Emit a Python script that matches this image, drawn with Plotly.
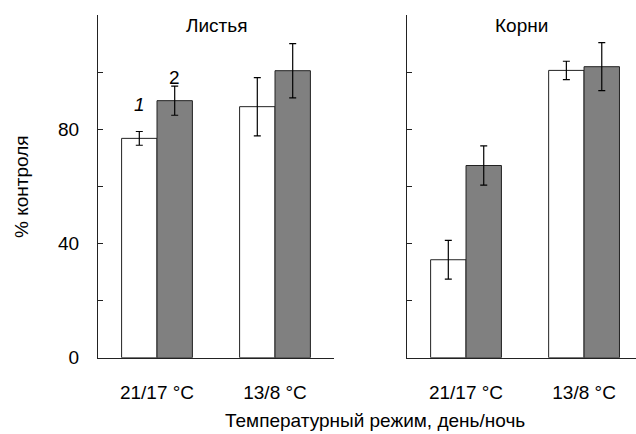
import plotly.graph_objects as go

categories = ["21/17 °C", "13/8 °C"]
leaves_s1 = [76.8, 87.9]
leaves_s1_err = [2.4, 10.2]
leaves_s2 = [90.0, 100.5]
leaves_s2_err = [5.1, 9.5]
roots_s1 = [34.3, 100.6]
roots_s1_err = [6.8, 3.2]
roots_s2 = [67.3, 101.9]
roots_s2_err = [6.9, 8.4]
y_tickvals = [0, 20, 40, 60, 80, 100, 120]
y_ticktext = ["0", "", "40", "", "80", "", ""]
panel_titles = ["Листья", "Корни"]
series_labels = ["1", "2"]

W, H = 636, 434
FONT = "Arial, Liberation Sans, sans-serif"
FS = 19
LINE = "#222222"

fig = go.Figure()

def add_bars(xa, ya, s1, e1, s2, e2):
    fig.add_trace(go.Bar(
        x=categories, y=s1, xaxis=xa, yaxis=ya,
        marker=dict(color="white", line=dict(color=LINE, width=1)),
        error_y=dict(type="data", array=e1, color="black", thickness=1.2, width=3.5),
        showlegend=False, offsetgroup="1", hoverinfo="skip"))
    fig.add_trace(go.Bar(
        x=categories, y=s2, xaxis=xa, yaxis=ya,
        marker=dict(color="#808080", line=dict(color=LINE, width=1)),
        error_y=dict(type="data", array=e2, color="black", thickness=1.2, width=3.5),
        showlegend=False, offsetgroup="2", hoverinfo="skip"))

add_bars("x", "y", leaves_s1, leaves_s1_err, leaves_s2, leaves_s2_err)
add_bars("x2", "y2", roots_s1, roots_s1_err, roots_s2, roots_s2_err)

ytop = 1 - 15 / H
ybot = 1 - 357.7 / H

common_y = dict(range=[0, 120], showline=True, linecolor=LINE, linewidth=1,
                ticks="inside", ticklen=5, tickcolor=LINE, tickvals=y_tickvals,
                showgrid=False, zeroline=False, domain=[ybot, ytop], automargin=False,
                tickfont=dict(family=FONT, size=FS, color="black"))
common_x = dict(showline=True, linecolor=LINE, linewidth=1, ticks="",
                showgrid=False, zeroline=False, type="category", automargin=False,
                ticklabelstandoff=17,
                tickfont=dict(family=FONT, size=FS, color="black"))

fig.update_layout(
    width=W, height=H, autosize=False,
    margin=dict(l=0, r=0, t=0, b=0, pad=0, autoexpand=False),
    paper_bgcolor="white", plot_bgcolor="white",
    barmode="group", bargap=0.4, bargroupgap=0,
    font=dict(family=FONT, size=FS, color="black"),
    xaxis=dict(common_x, domain=[98 / W, 334 / W], range=[-0.5, 1.5], anchor="y"),
    xaxis2=dict(common_x, domain=[407 / W, 1.0], range=[-0.5, 1.44], anchor="y2"),
    yaxis=dict(common_y, ticktext=y_ticktext, anchor="x", ticklabelstandoff=14),
    yaxis2=dict(common_y, ticktext=[""] * len(y_tickvals), anchor="x2"),
)

annotations = [
    dict(text=panel_titles[0], xref="x domain", yref="paper", x=0.5, y=1 - 26 / H,
         yanchor="middle", showarrow=False, font=dict(family=FONT, size=FS)),
    dict(text=panel_titles[1], xref="x2 domain", yref="paper", x=0.5, y=1 - 26 / H,
         yanchor="middle", showarrow=False, font=dict(family=FONT, size=FS)),
    dict(text="<i>" + series_labels[0] + "</i>", xref="x", yref="y", x=categories[0],
         y=leaves_s1[0] + leaves_s1_err[0], xshift=-18, yshift=27, yanchor="middle",
         showarrow=False, font=dict(family=FONT, size=FS)),
    dict(text=series_labels[1], xref="x", yref="y", x=categories[0],
         y=leaves_s2[0] + leaves_s2_err[0], xshift=17.7, yshift=9, yanchor="middle",
         showarrow=False, font=dict(family=FONT, size=FS)),
    dict(text="% контроля", xref="paper", yref="paper", x=22 / W, y=1 - 187 / H,
         xanchor="center", yanchor="middle",
         textangle=-90, showarrow=False, font=dict(family=FONT, size=FS)),
    dict(text="Температурный режим, день/ночь", xref="paper", yref="paper",
         x=375 / W, y=1 - 420 / H, xanchor="center", yanchor="middle",
         showarrow=False, font=dict(family=FONT, size=FS)),
]
fig.update_layout(annotations=annotations)

fig.write_html("out.html",
               config=dict(displayModeBar=False, responsive=False),
               post_script="document.body.style.margin='0';document.body.style.overflow='hidden';")
